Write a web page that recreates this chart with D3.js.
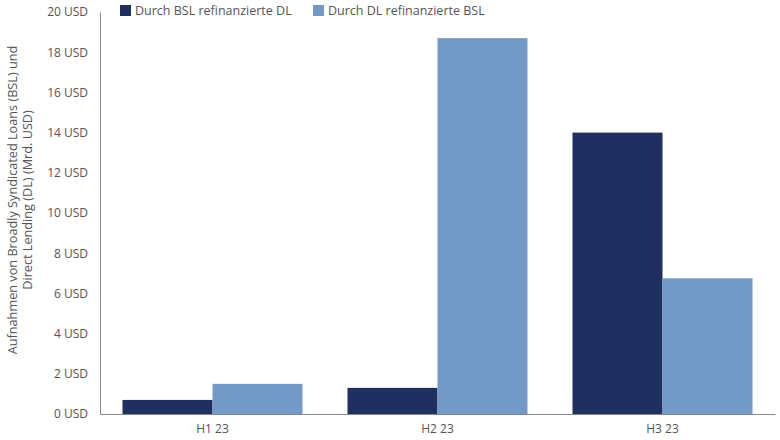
<!DOCTYPE html>
<html><head><meta charset="utf-8">
<script src="https://cdn.jsdelivr.net/npm/d3@7"></script>
<style>body{margin:0;background:#fff}svg text{font-family:"Open Sans",sans-serif;fill:#555}</style>
</head><body><svg id="c" width="780" height="440"></svg>
<script>
const categories = ["H1 23", "H2 23", "H3 23"];
const seriesNames = ["Durch BSL refinanzierte DL", "Durch DL refinanzierte BSL"];
const bslRefDL = [0.7, 1.3, 14.0];
const dlRefBSL = [1.5, 18.7, 6.75];
const yTicks = [0, 2, 4, 6, 8, 10, 12, 14, 16, 18, 20];
const colors = ["#1f2f5f", "#7399c6"];

const svg = d3.select("#c");
const m = {l: 100, r: 5, t: 12, b: 26};
const W = 780, H = 440;
const x = d3.scaleBand().domain(categories).range([m.l, W - m.r]).paddingInner(0.2).paddingOuter(0.1);
const x1 = d3.scaleBand().domain([0, 1]).range([0, x.bandwidth()]);
const y = d3.scaleLinear().domain([0, 20]).range([H - m.b, m.t]);
const series = [bslRefDL, dlRefBSL];

// bars
series.forEach((vals, si) => {
  svg.append("g").selectAll("rect").data(vals).join("rect")
    .attr("x", (d, i) => x(categories[i]) + x1(si))
    .attr("width", x1.bandwidth())
    .attr("y", d => y(d))
    .attr("height", d => y(0) - y(d))
    .attr("fill", colors[si]);
});

// y axis
const ya = svg.append("g").attr("transform", `translate(${m.l},0)`)
  .call(d3.axisLeft(y).tickValues(yTicks).tickSize(0).tickPadding(12).tickFormat(d => d + " USD"));
ya.select(".domain").attr("stroke", "#888");
ya.selectAll("text").style("font-size", "12px").attr("fill", "#555");

// x axis
const xa = svg.append("g").attr("transform", `translate(0,${y(0)})`)
  .call(d3.axisBottom(x).tickSize(0).tickPadding(10));
xa.select(".domain").attr("stroke", "#888");
xa.selectAll("text").style("font-size", "12px").attr("fill", "#555");

// y title
const t = svg.append("text").attr("transform", `translate(17,200) rotate(-90)`)
  .attr("text-anchor", "middle").style("font-size", "12.7px");
t.append("tspan").attr("x", 0).attr("dy", 0).text("Aufnahmen von Broadly Syndicated Loans (BSL) und");
t.append("tspan").attr("x", 0).attr("dy", 14.5).text("Direct Lending (DL) (Mrd. USD)");

// legend
const legX = [120, 313];
seriesNames.forEach((n, i) => {
  const g = svg.append("g").attr("transform", `translate(${legX[i]},5)`);
  g.append("rect").attr("width", 11).attr("height", 11).attr("fill", colors[i]);
  g.append("text").attr("x", 15).attr("y", 10).style("font-size", "12.5px").text(n);
});
</script></body></html>
